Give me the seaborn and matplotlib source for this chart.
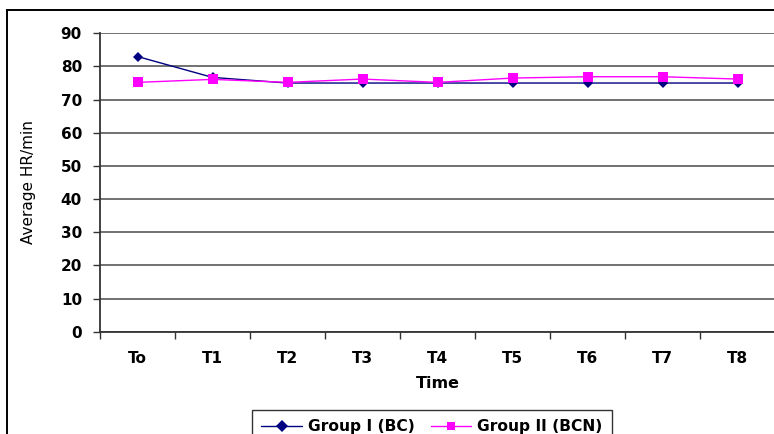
import matplotlib
matplotlib.use("Agg")
import matplotlib.pyplot as plt
from matplotlib.patches import Rectangle
from matplotlib.ticker import FixedLocator
import seaborn as sns
import pandas as pd

# Heart rate at each time point
time_points = ["To", "T1", "T2", "T3", "T4", "T5", "T6", "T7", "T8"]
group1_hr = [83.0, 76.7, 75.0, 75.0, 75.0, 75.0, 75.0, 75.0, 75.0]
group2_hr = [75.2, 76.1, 75.2, 76.2, 75.2, 76.5, 76.9, 76.9, 76.2]
series_names = ["Group I (BC)", "Group II (BCN)"]
y_ticks = [0, 10, 20, 30, 40, 50, 60, 70, 80, 90]

df = pd.DataFrame({
    "Time": time_points * 2,
    "HR": group1_hr + group2_hr,
    "Group": [series_names[0]] * len(time_points) + [series_names[1]] * len(time_points),
})

sns.set_theme(style="white")
plt.rcParams["font.family"] = ["DejaVu Sans"]
plt.rcParams["text.color"] = "black"
plt.rcParams["axes.labelcolor"] = "black"

fig = plt.figure(figsize=(7.74, 4.34), dpi=100)
ax = fig.add_axes([100 / 774, 1 - 331.7 / 434, 675 / 774, (331.7 - 33.3) / 434])

sns.lineplot(
    data=df, x="Time", y="HR", hue="Group", style="Group",
    palette=["#000080", "#FF00FF"], markers=["D", "s"], dashes=False,
    markersize=6, linewidth=1.0, markeredgewidth=0, ax=ax, sort=False,
)
for line, ms in zip(ax.lines, [5, 6.5]):
    line.set_markersize(ms)

ax.set_xlim(-0.5, len(time_points) - 0.5)
ax.set_ylim(0, 90)
ax.set_yticks(y_ticks)
ax.yaxis.grid(True, color="#666666", linewidth=1.3)
ax.set_axisbelow(True)

# category labels centred, tick marks on the band boundaries
ax.set_xticks(range(len(time_points)))
ax.set_xticklabels(time_points)
ax.xaxis.set_minor_locator(FixedLocator([i - 0.5 for i in range(len(time_points) + 1)]))
ax.tick_params(axis="x", which="major", length=0, pad=14)
ax.tick_params(axis="x", which="minor", length=5, width=1, color="#333333", direction="out", bottom=True)
ax.tick_params(axis="y", length=5, width=1, color="#333333", direction="out", left=True, pad=8)
for lab in ax.get_xticklabels() + ax.get_yticklabels():
    lab.set_fontweight("bold")
    lab.set_fontsize(11)
    lab.set_color("black")

for side in ["top", "right"]:
    ax.spines[side].set_visible(False)
for side in ["left", "bottom"]:
    ax.spines[side].set_color("#333333")
    ax.spines[side].set_linewidth(1.3)

ax.set_xlabel("Time", fontsize=11.5, fontweight="bold", labelpad=7)
ax.set_ylabel("Average HR/min", fontsize=11, labelpad=18)

handles, labels = ax.get_legend_handles_labels()
ax.get_legend().remove()
leg = fig.legend(
    handles, labels, loc="upper center", bbox_to_anchor=(432 / 774, 1 - 402 / 434),
    ncol=2, frameon=True, fancybox=False, edgecolor="black", borderpad=0.6,
    handlelength=2.6, columnspacing=1.0, handletextpad=0.4,
    prop={"weight": "bold", "size": 11.2},
)
leg.get_frame().set_linewidth(1.0)

# chart frame
fig.patches.append(Rectangle((7 / 774, -0.1), 1.2, 1.1 - 10 / 434, transform=fig.transFigure,
                             fill=False, edgecolor="black", linewidth=1.4))

fig.savefig("out.png", dpi=100)
